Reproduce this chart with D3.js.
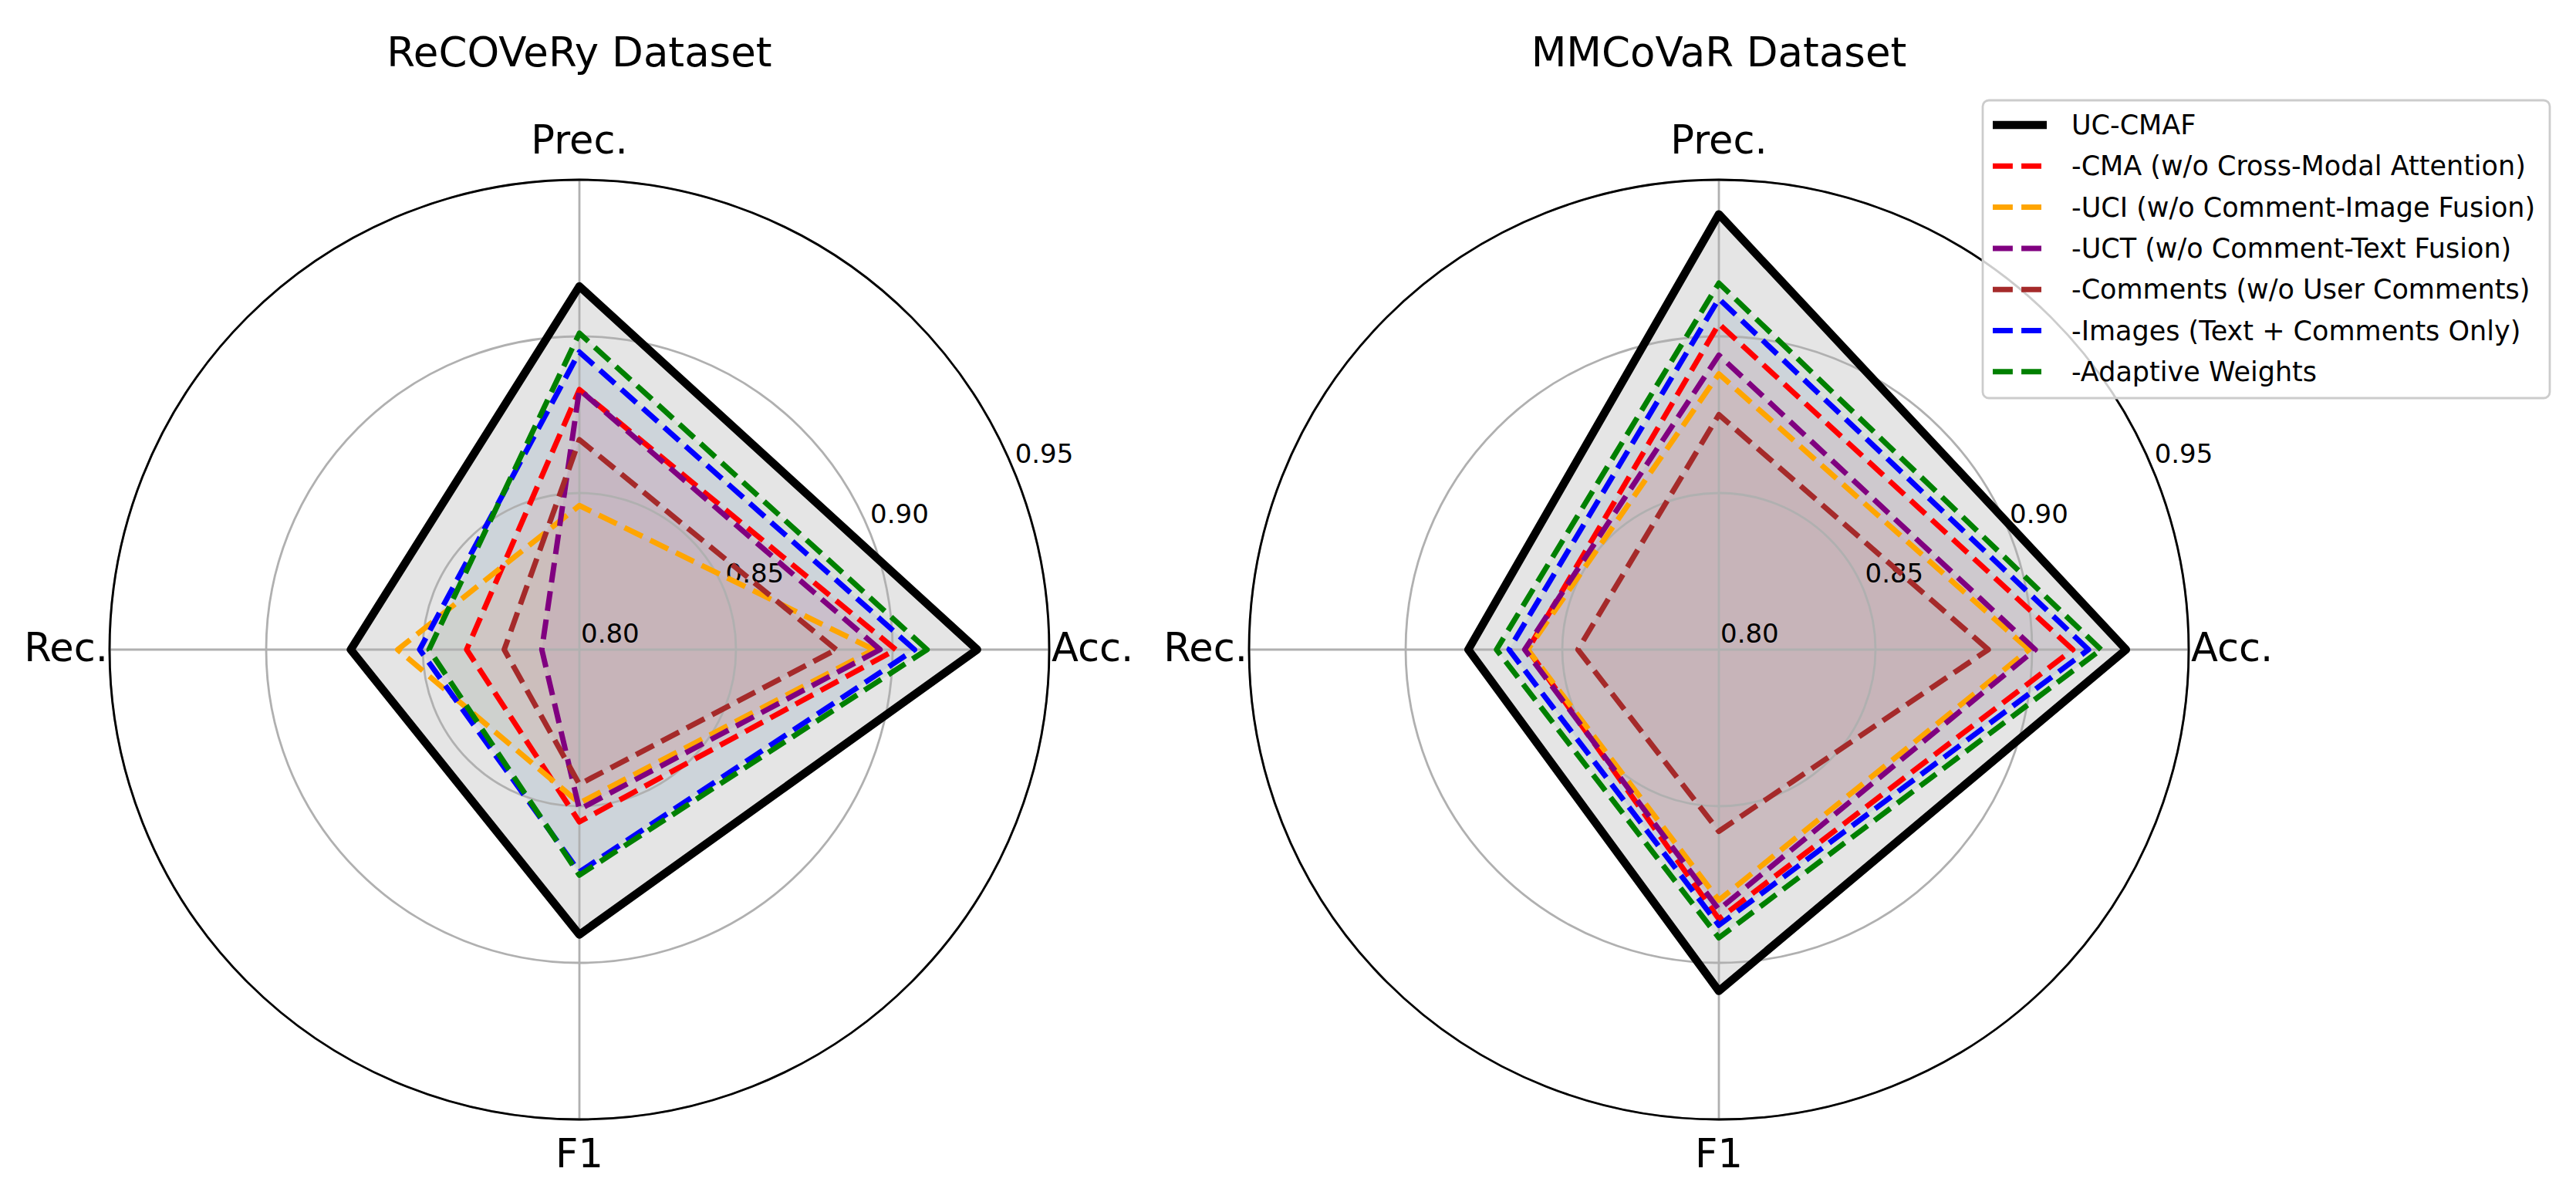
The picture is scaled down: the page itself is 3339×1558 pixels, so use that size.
<!DOCTYPE html>
<html>
<head>
<meta charset="utf-8">
<script src="https://cdn.jsdelivr.net/npm/d3@7"></script>
<style>
  body { margin: 0; background: #fff; }
  svg { display: block; font-family: "DejaVu Sans", sans-serif; }
</style>
</head>
<body>
<svg id="chart" width="3339" height="1558"></svg>
<script>
// axes, counter-clockwise from the right like matplotlib
var metrics = ["Acc.", "Prec.", "Rec.", "F1"];
var rTicks = [0.80, 0.85, 0.90, 0.95];

var seriesNames = [
  "UC-CMAF",
  "-CMA (w/o Cross-Modal Attention)",
  "-UCI (w/o Comment-Image Fusion)",
  "-UCT (w/o Comment-Text Fusion)",
  "-Comments (w/o User Comments)",
  "-Images (Text + Comments Only)",
  "-Adaptive Weights"
];
var seriesColors = ["black", "red", "orange", "purple", "brown", "blue", "green"];

// values per series: Acc., Prec., Rec., F1
var recoveryValues = [
  [0.927, 0.916, 0.873, 0.891],
  [0.901, 0.883, 0.836, 0.855],
  [0.894, 0.846, 0.858, 0.849],
  [0.896, 0.883, 0.812, 0.851],
  [0.882, 0.867, 0.824, 0.843],
  [0.907, 0.895, 0.851, 0.871],
  [0.911, 0.901, 0.848, 0.872]
];
var mmcovarValues = [
  [0.930, 0.939, 0.880, 0.909],
  [0.913, 0.904, 0.861, 0.886],
  [0.899, 0.888, 0.861, 0.880],
  [0.901, 0.894, 0.862, 0.883],
  [0.886, 0.875, 0.845, 0.858],
  [0.918, 0.912, 0.867, 0.888],
  [0.922, 0.917, 0.871, 0.892]
];

var svg = d3.select("#chart");
var R = 609;
var cy = 842;
var gridColor = "#b0b0b0";

var r = d3.scaleLinear().domain([0.80, 0.95]).range([0, R]);
// d3 angle: 0 = up, clockwise. metric i sits at i*90deg counter-clockwise from the right
function ang(i){ return Math.PI / 2 - i * Math.PI / 2; }

var radial = d3.lineRadial()
  .angle(function(d, i){ return ang(i); })
  .radius(function(d){ return r(d); })
  .curve(d3.curveLinearClosed);

function drawRadar(cx, title, values){
  var g = svg.append("g").attr("transform", "translate(" + cx + "," + cy + ")");

  // fills first (patches sit under the grid)
  values.forEach(function(v, k){
    g.append("path")
      .attr("d", radial(v))
      .attr("fill", seriesColors[k])
      .attr("fill-opacity", k == 0 ? 0.1 : 0.05)
      .attr("stroke", "none");
  });

  // grid rings and spokes
  rTicks.slice(1).forEach(function(t){
    g.append("circle").attr("r", r(t))
      .attr("fill", "none").attr("stroke", gridColor).attr("stroke-width", 2.8);
  });
  metrics.forEach(function(m, i){
    var a = ang(i);
    g.append("line")
      .attr("x1", 0).attr("y1", 0)
      .attr("x2", R * Math.sin(a)).attr("y2", -R * Math.cos(a))
      .attr("stroke", gridColor).attr("stroke-width", 2.8);
  });

  // r tick labels at 22.5 deg
  var la = 22.5 * Math.PI / 180;
  rTicks.forEach(function(t){
    g.append("text")
      .attr("x", r(t) * Math.cos(la) + 2)
      .attr("y", -r(t) * Math.sin(la) - 9)
      .attr("font-size", 34)
      .attr("fill", "#000")
      .text(t.toFixed(2));
  });

  // series lines
  values.forEach(function(v, k){
    var solid = (k == 0);
    g.append("path")
      .attr("d", radial(v))
      .attr("fill", "none")
      .attr("stroke", seriesColors[k])
      .attr("stroke-width", solid ? 10.5 : 7)
      .attr("stroke-linejoin", "round")
      .attr("stroke-dasharray", solid ? null : "25.9,11.2");
  });

  // outer spine
  g.append("circle").attr("r", R)
    .attr("fill", "none").attr("stroke", "#000").attr("stroke-width", 2.8);

  // metric labels
  var lab = g.append("g").attr("font-size", 51).attr("fill", "#000");
  lab.append("text").attr("x", R + 3).attr("y", 15).attr("text-anchor", "start").text(metrics[0]);
  lab.append("text").attr("x", 0).attr("y", -R - 34).attr("text-anchor", "middle").text(metrics[1]);
  lab.append("text").attr("x", -R - 2).attr("y", 15).attr("text-anchor", "end").text(metrics[2]);
  lab.append("text").attr("x", 0).attr("y", R + 62).attr("text-anchor", "middle").text(metrics[3]);

  svg.append("text")
    .attr("x", cx).attr("y", 86)
    .attr("text-anchor", "middle")
    .attr("font-size", 53)
    .text(title);
}

drawRadar(751, "ReCOVeRy Dataset", recoveryValues);
drawRadar(2228, "MMCoVaR Dataset", mmcovarValues);

// legend
var lg = svg.append("g").attr("transform", "translate(2570,130)");
lg.append("rect")
  .attr("width", 735).attr("height", 386)
  .attr("rx", 8).attr("ry", 8)
  .attr("fill", "#fff").attr("fill-opacity", 0.8)
  .attr("stroke", "#cccccc").attr("stroke-width", 2.8);

seriesNames.forEach(function(name, k){
  var y = 32 + k * 53.3;
  lg.append("line")
    .attr("x1", 13).attr("x2", 83)
    .attr("y1", y).attr("y2", y)
    .attr("stroke", seriesColors[k])
    .attr("stroke-width", k == 0 ? 10.5 : 7)
    .attr("stroke-dasharray", k == 0 ? null : "25.9,11.2");
  lg.append("text")
    .attr("x", 115).attr("y", y + 12)
    .attr("font-size", 35)
    .text(name);
});
</script>
</body>
</html>
